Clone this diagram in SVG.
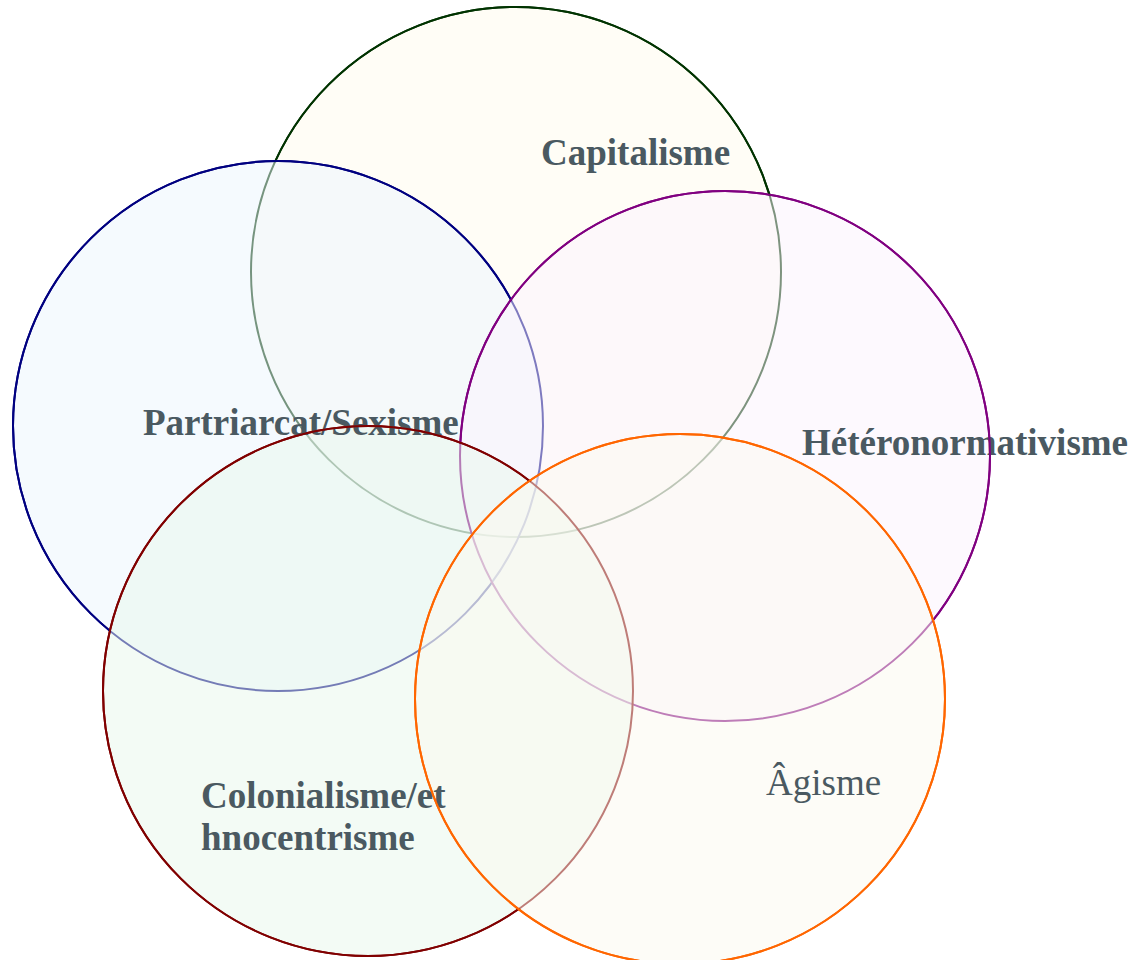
<svg xmlns="http://www.w3.org/2000/svg" width="1136" height="960" viewBox="0 0 1136 960">
<style>
.lbl{font-family:"Liberation Serif","Times New Roman",serif;font-size:37px;font-weight:bold;fill:#4a5961}
.lbl.n{font-weight:normal}
.c{stroke-width:2;fill-opacity:0.5}
.s{fill:none;stroke-width:2}
</style>
<defs>
<mask id="m1" maskUnits="userSpaceOnUse" x="0" y="0" width="1136" height="960">
<rect width="1136" height="960" fill="#fff"/>
<circle cx="278" cy="426" r="264" fill="#000"/><circle cx="725" cy="456" r="264" fill="#000"/><circle cx="368" cy="691" r="264" fill="#000"/><circle cx="680" cy="699" r="264" fill="#000"/>
</mask>
<mask id="m2" maskUnits="userSpaceOnUse" x="0" y="0" width="1136" height="960">
<rect width="1136" height="960" fill="#fff"/>
<circle cx="725" cy="456" r="264" fill="#000"/><circle cx="368" cy="691" r="264" fill="#000"/><circle cx="680" cy="699" r="264" fill="#000"/>
</mask>
<mask id="m3" maskUnits="userSpaceOnUse" x="0" y="0" width="1136" height="960">
<rect width="1136" height="960" fill="#fff"/>
<circle cx="368" cy="691" r="264" fill="#000"/><circle cx="680" cy="699" r="264" fill="#000"/>
</mask>
<mask id="m4" maskUnits="userSpaceOnUse" x="0" y="0" width="1136" height="960">
<rect width="1136" height="960" fill="#fff"/>
<circle cx="680" cy="699" r="264" fill="#000"/>
</mask>
</defs>
<rect width="1136" height="960" fill="#ffffff"/>
<g id="capitalisme"><circle class="c" cx="516" cy="272" r="265" fill="#fffbee" stroke="#003300"/></g>
<g id="partriarcat"><circle class="c" cx="278" cy="426" r="265" fill="#ebf5fd" stroke="#000080"/></g>
<g id="heteronormativisme"><circle class="c" cx="725" cy="456" r="265" fill="#fbf3fd" stroke="#800080"/></g>
<g id="colonialisme"><circle class="c" cx="368" cy="691" r="265" fill="#e7f7eb" stroke="#800000"/></g>
<g id="agisme"><circle class="c" cx="680" cy="699" r="265" fill="#fbf9ef" stroke="#ff6600"/></g>
<g id="labels">
<text id="label-capitalisme" class="lbl" x="541" y="165">Capitalisme</text>
<text id="label-partriarcat" class="lbl" x="143" y="435">Partriarcat/Sexisme</text>
<text id="label-heteronormativisme" class="lbl" x="802" y="455">Hétéronormativisme</text>
<text id="label-colonialisme" class="lbl" x="201" y="808">Colonialisme/et</text>
<text id="label-colonialisme-2" class="lbl" x="201" y="850">hnocentrisme</text>
<text id="label-agisme" class="lbl n" x="766" y="795">Âgisme</text>
</g>
<g id="outlines">
<circle class="s" cx="516" cy="272" r="265" stroke="#003300" mask="url(#m1)"/>
<circle class="s" cx="278" cy="426" r="265" stroke="#000080" mask="url(#m2)"/>
<circle class="s" cx="725" cy="456" r="265" stroke="#800080" mask="url(#m3)"/>
<circle class="s" cx="368" cy="691" r="265" stroke="#800000" mask="url(#m4)"/>
<circle class="s" cx="680" cy="699" r="265" stroke="#ff6600"/>
</g>
<g id="connectors"></g>
</svg>
